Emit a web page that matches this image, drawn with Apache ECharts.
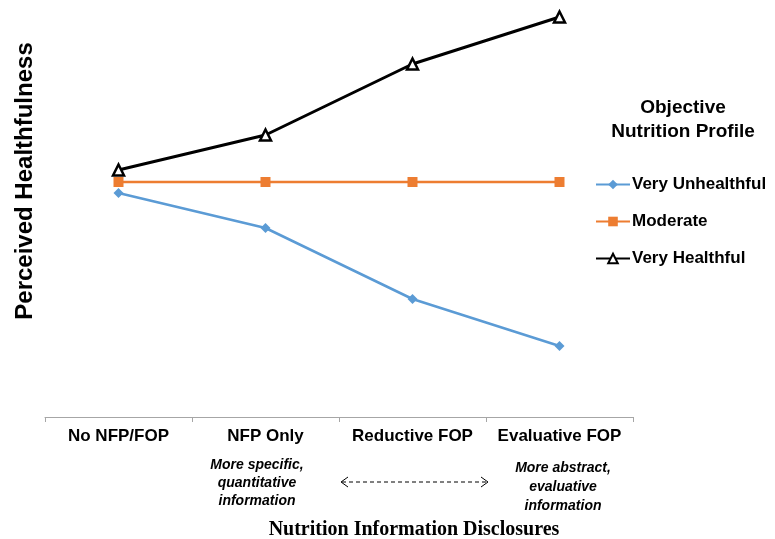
<!DOCTYPE html>
<html><head><meta charset="utf-8">
<script src="https://cdn.jsdelivr.net/npm/echarts@6/dist/echarts.min.js"></script>
<style>html,body{margin:0;padding:0;background:#fff}#c{width:775px;height:539px}</style>
</head><body><div id="c"></div>
<script>
var categories = ['No NFP/FOP', 'NFP Only', 'Reductive FOP', 'Evaluative FOP'];
var veryUnhealthful = [56, 47.25, 29.5, 17.75];
var moderate = [58.75, 58.75, 58.75, 58.75];
var veryHealthful = [61.75, 70.5, 88.25, 100];

var chart = echarts.init(document.getElementById('c'));
var F = 'Liberation Sans, Arial, sans-serif';
chart.setOption({
  animation: false,
  grid: {left: 45, right: 142, top: 17, bottom: 122},
  xAxis: {
    type: 'category', data: categories, boundaryGap: true,
    axisLine: {lineStyle: {color: '#a6a6a6', width: 1}},
    axisTick: {show: true, length: 5, lineStyle: {color: '#a6a6a6'}},
    axisLabel: {color: '#000', fontFamily: F, fontWeight: 'bold', fontSize: 17, margin: 11, interval: 0, hideOverlap: false}
  },
  yAxis: {
    type: 'value', min: 0, max: 100,
    axisLine: {show: false}, axisTick: {show: false}, axisLabel: {show: false}, splitLine: {show: false}
  },
  legend: {
    orient: 'vertical', left: 590, top: 171, itemWidth: 34, itemHeight: 12, itemGap: 20,
    textStyle: {color: '#000', fontFamily: F, fontWeight: 'bold', fontSize: 17, padding: [0, 0, 0, -3]},
    data: ['Very Unhealthful', 'Moderate', 'Very Healthful']
  },
  series: [
    {name: 'Very Unhealthful', type: 'line', data: veryUnhealthful, symbol: 'diamond', symbolSize: 10,
     lineStyle: {color: '#5b9bd5', width: 2.5}, itemStyle: {color: '#5b9bd5'}},
    {name: 'Moderate', type: 'line', data: moderate, symbol: 'rect', symbolSize: 10,
     lineStyle: {color: '#ed7d31', width: 2.5}, itemStyle: {color: '#ed7d31'}},
    {name: 'Very Healthful', type: 'line', data: veryHealthful, symbol: 'triangle', symbolSize: 11,
     lineStyle: {color: '#000', width: 3}, itemStyle: {color: '#fff', borderColor: '#000', borderWidth: 2.5}}
  ],
  graphic: [
    {type: 'text', x: 25, y: 181, rotation: Math.PI/2, style: {text: 'Perceived Healthfulness', fill: '#000',
      font: 'bold 24px ' + F, textAlign: 'center', textVerticalAlign: 'middle'}},
    {type: 'text', x: 683, y: 120, style: {text: 'Objective\nNutrition Profile', fill: '#000',
      font: 'bold 19px ' + F, textAlign: 'center', textVerticalAlign: 'middle', lineHeight: 24}},
    {type: 'text', x: 257, y: 483, style: {text: 'More specific,\nquantitative\ninformation', fill: '#000',
      font: 'italic bold 14px ' + F, textAlign: 'center', textVerticalAlign: 'middle', lineHeight: 18}},
    {type: 'text', x: 563, y: 487, style: {text: 'More abstract,\nevaluative\ninformation', fill: '#000',
      font: 'italic bold 14px ' + F, textAlign: 'center', textVerticalAlign: 'middle', lineHeight: 19}},
    {type: 'line', shape: {x1: 342, y1: 482, x2: 487, y2: 482}, style: {stroke: '#000', lineWidth: 1, lineDash: [4, 3]}},
    {type: 'polyline', shape: {points: [[348, 477], [341, 482], [348, 487]]}, style: {stroke: '#000', lineWidth: 1, fill: null}},
    {type: 'polyline', shape: {points: [[481, 477], [488, 482], [481, 487]]}, style: {stroke: '#000', lineWidth: 1, fill: null}},
    {type: 'text', x: 414, y: 530, style: {text: 'Nutrition Information Disclosures', fill: '#000',
      font: 'bold 20px Liberation Serif, Times New Roman, serif', textAlign: 'center', textVerticalAlign: 'middle'}}
  ]
});
</script></body></html>
